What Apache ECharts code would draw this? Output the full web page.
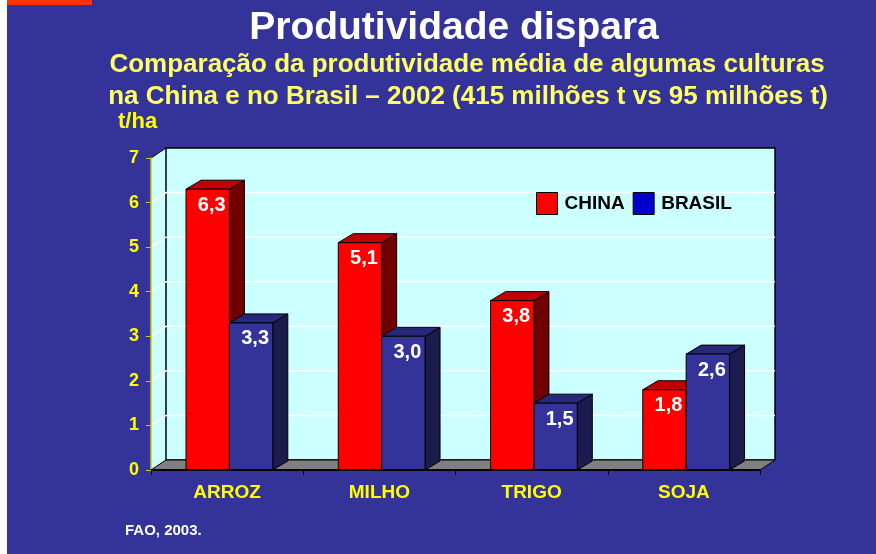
<!DOCTYPE html>
<html>
<head>
<meta charset="utf-8">
<script src="https://cdn.jsdelivr.net/npm/echarts@6/dist/echarts.min.js"></script>
<style>
html,body{margin:0;padding:0;background:#333399;overflow:hidden;width:100%;height:100%;}
#c{position:absolute;left:0;top:0;width:876px;height:554px;}
</style>
</head>
<body>
<div id="c"></div>
<script>
var categories = ['ARROZ', 'MILHO', 'TRIGO', 'SOJA'];
var china = [6.3, 5.1, 3.8, 1.8];
var brasil = [3.3, 3.0, 1.5, 2.6];
var yTicks = [0, 1, 2, 3, 4, 5, 6, 7];
var seriesNames = ['CHINA', 'BRASIL'];

var FONT = '"Liberation Sans", Arial, sans-serif';
var WDX = 15, WDY = -10;   // wall depth
var BDX = 15, BDY = -9;    // bar depth

function fmt(v) { return v.toFixed(1).replace('.', ','); }

function wallsRender(params, api) {
  var cs = params.coordSys;
  var x0 = cs.x, x1 = cs.x + cs.width, yT = cs.y, yB = cs.y + cs.height;
  var kids = [];
  kids.push({type: 'polygon', shape: {points: [[x0, yT], [x0 + WDX, yT + WDY], [x0 + WDX, yB + WDY], [x0, yB]]},
    style: {fill: '#CCFFFF', stroke: null}});
  kids.push({type: 'rect', shape: {x: x0 + WDX, y: yT + WDY, width: cs.width, height: cs.height},
    style: {fill: '#CCFFFF', stroke: '#000', lineWidth: 1.5}});
  for (var k = 1; k < yTicks.length - 1; k++) {
    var y = api.coord([0, yTicks[k]])[1];
    kids.push({type: 'polyline', shape: {points: [[x0, y], [x0 + WDX, y + WDY], [x1 + WDX, y + WDY]]},
      style: {stroke: '#FFFFFF', lineWidth: 1.5, fill: null}});
  }
  kids.push({type: 'line', shape: {x1: x0, y1: yT, x2: x0 + WDX, y2: yT + WDY}, style: {stroke: '#000', lineWidth: 1}});
  kids.push({type: 'polygon', shape: {points: [[x0, yB], [x1, yB], [x1 + WDX, yB + WDY], [x0 + WDX, yB + WDY]]},
    style: {fill: '#808080', stroke: '#000', lineWidth: 1}});
  return {type: 'group', children: kids};
}

function barRender(offFrac, front, topC, sideC) {
  return function (params, api) {
    var i = api.value(0), v = api.value(1);
    var base = api.coord([i, 0]);
    var top = api.coord([i, v]);
    var bw = api.size([1, 0])[0];
    var w = 0.285 * bw;
    var xa = base[0] + offFrac * bw, xb = xa + w;
    var yt = top[1], yb = base[1];
    var st = {stroke: '#000', lineWidth: 1};
    return {type: 'group', children: [
      {type: 'polygon', shape: {points: [[xb, yt], [xb + BDX, yt + BDY], [xb + BDX, yb + BDY], [xb, yb]]},
        style: Object.assign({fill: sideC}, st)},
      {type: 'polygon', shape: {points: [[xa, yt], [xb, yt], [xb + BDX, yt + BDY], [xa + BDX, yt + BDY]]},
        style: Object.assign({fill: topC}, st)},
      {type: 'rect', shape: {x: xa, y: yt, width: w, height: yb - yt},
        style: Object.assign({fill: front}, st)},
      {type: 'text', style: {text: fmt(v), x: (xa + xb) / 2 + 4, y: yt + 16, fill: '#FFFFFF',
        font: 'bold 20px ' + FONT, align: 'center', verticalAlign: 'middle'}}
    ]};
  };
}

var chart = echarts.init(document.getElementById('c'), null, {renderer: 'canvas', width: 876, height: 554});
chart.setOption({
  backgroundColor: '#333399',
  animation: false,
  grid: {left: 151, right: 116, top: 158, bottom: 84},
  graphic: [
    {type: 'rect', left: 0, top: 0, shape: {width: 7, height: 554}, style: {fill: '#FFFFFF'}, z: 100},
    {type: 'rect', left: 7, top: 0, shape: {width: 85, height: 5}, style: {fill: '#FF3300'}, z: 100},
    {type: 'text', x: 454, y: 9, style: {text: 'Produtividade dispara', fill: '#FFFFFF',
      font: 'bold 39px ' + FONT, align: 'center', verticalAlign: 'top'}},
    {type: 'text', x: 467, y: 52, style: {text: 'Comparação da produtividade média de algumas culturas', fill: '#FFFF66',
      font: 'bold 26px ' + FONT, align: 'center', verticalAlign: 'top'}},
    {type: 'text', x: 468, y: 84, style: {text: 'na China e no Brasil – 2002 (415 milhões t vs 95 milhões t)', fill: '#FFFF66',
      font: 'bold 26px ' + FONT, align: 'center', verticalAlign: 'top'}},
    {type: 'text', x: 118, y: 111, style: {text: 't/ha', fill: '#FFFF00',
      font: 'bold 22px ' + FONT, align: 'left', verticalAlign: 'top'}},
    {type: 'text', x: 125, y: 523, style: {text: 'FAO, 2003.', fill: '#FFFFFF',
      font: 'bold 15px ' + FONT, align: 'left', verticalAlign: 'top'}}
  ],
  legend: {
    left: 531, top: 187, itemWidth: 21, itemHeight: 22, itemGap: 8,
    textStyle: {color: '#000', fontWeight: 'bold', fontSize: 19, fontFamily: FONT, padding: [0, 0, 0, 2]},
    data: [
      {name: seriesNames[0], icon: 'rect', itemStyle: {color: '#FF0000', borderColor: '#000', borderWidth: 1}},
      {name: seriesNames[1], icon: 'rect', itemStyle: {color: '#0000CC', borderColor: '#000', borderWidth: 1}}
    ]
  },
  xAxis: {
    type: 'category', data: categories,
    axisLine: {lineStyle: {color: '#000', width: 2}},
    axisTick: {show: true, interval: 0, length: 5, lineStyle: {color: '#000'}},
    axisLabel: {color: '#FFFF00', fontWeight: 'bold', fontSize: 19, fontFamily: FONT, margin: 13},
    splitLine: {show: false}, z: 10
  },
  yAxis: {
    type: 'value', min: 0, max: 7, interval: 1,
    axisLine: {show: true, lineStyle: {color: '#CCCC00', width: 1.5}},
    axisTick: {show: true, length: 5, lineStyle: {color: '#CCCC00'}},
    axisLabel: {color: '#FFFF00', fontWeight: 'bold', fontSize: 18, fontFamily: FONT, margin: 12},
    splitLine: {show: false}, z: 10
  },
  series: [
    {type: 'custom', name: '_walls', renderItem: wallsRender, data: [[0, 0]], z: 1, silent: true},
    {type: 'custom', name: seriesNames[0], itemStyle: {color: '#FF0000'}, z: 2,
      renderItem: barRender(-0.27, '#FF0000', '#C00000', '#700000'),
      data: china.map(function (v, i) { return [i, v]; })},
    {type: 'custom', name: seriesNames[1], itemStyle: {color: '#0000CC'}, z: 3,
      renderItem: barRender(0.015, '#333399', '#28287A', '#1B1B4E'),
      data: brasil.map(function (v, i) { return [i, v]; })}
  ]
});
</script>
</body>
</html>
